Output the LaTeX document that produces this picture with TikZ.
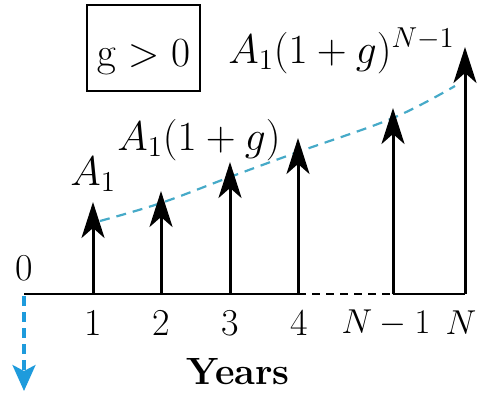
\documentclass[tikz,border=0pt]{standalone}
\usetikzlibrary{arrows.meta}
\definecolor{curveblue}{RGB}{70,170,200}
\definecolor{cashblue}{RGB}{30,155,220}
\begin{document}
\begin{tikzpicture}[x=0.5pt,y=-0.5pt,
  lbl/.style={font=\fontsize{19}{22}\selectfont, inner sep=0pt},
  biglbl/.style={font=\fontsize{20.5}{24}\selectfont, inner sep=0pt},
  cash/.style={line width=1.5pt, -{Stealth[length=18pt,width=11.5pt,inset=5pt]}},
  axisline/.style={line width=1pt},
  growth/.style={curveblue, line width=1.1pt, dash pattern=on 5pt off 3.5pt},
  outflow/.style={cashblue, line width=1.6pt, dash pattern=on 5pt off 3pt,
     -{Stealth[length=13pt,width=11.5pt,inset=3pt]}},
  frame/.style={draw, line width=0.8pt, minimum width=56.5pt, minimum height=43pt, inner sep=0pt}]
\useasboundingbox (0,0) rectangle (483,392);
% axis points
\coordinate (o) at (24,294);
\coordinate (o2) at (24,296);
\coordinate (t1) at (93,294);
\coordinate (t2) at (161,294);
\coordinate (t3) at (230,294);
\coordinate (t4) at (298,294);
\coordinate (tn1) at (393,294);
\coordinate (tn) at (465,294);
% arrow tips
\coordinate (h1) at (93,202);
\coordinate (h2) at (161,191);
\coordinate (h3) at (230,162);
\coordinate (h4) at (298,138);
\coordinate (hn1) at (393,108);
\coordinate (hn) at (465,47);
\coordinate (dn) at (24,391);
% axis
\draw[axisline] (o) -- (t4);
\draw[axisline, dash pattern=on 4pt off 3pt] (t4) -- (tn1);
\draw[axisline] (tn1) -- (tn);
% growth curve
\draw[growth] plot[smooth, tension=0.6] coordinates {(100,221) (161,203) (230,177) (298,152) (393,118) (455,86)};
% cash flows
\draw[cash] (t1) -- (h1);
\draw[cash] (t2) -- (h2);
\draw[cash] (t3) -- (h3);
\draw[cash] (t4) -- (h4);
\draw[cash] (tn1) -- (hn1);
\draw[cash] (tn) -- (hn);
\draw[outflow] (o2) -- (dn);
% labels
\node[frame] (box) at (143.5,48) {};
\node[biglbl, anchor=base] (gpos) at (143.5,66) {$\mathrm{g} > 0$};
\node[biglbl, anchor=base west] (lN) at (228,63) {$A_1(1+g)^{N-1}$};
\node[biglbl, anchor=base west] (l2) at (117,150) {$A_1(1+g)$};
\node[biglbl, anchor=base west] (l1) at (70,185) {$A_1$};
\node[lbl] (z) at (24,268) {0};
\node[lbl] (n1) at (93,323) {1};
\node[lbl] (n2) at (161,323) {2};
\node[lbl] (n3) at (230,323) {3};
\node[lbl] (n4) at (299,323) {4};
\node[lbl] (nn1) at (386,323) {$N-1$};
\node[lbl] (nn) at (461,323) {$N$};
\node[lbl, font=\fontsize{19}{22}\selectfont\bfseries] (yr) at (238,372) {Years};
\end{tikzpicture}
\end{document}
